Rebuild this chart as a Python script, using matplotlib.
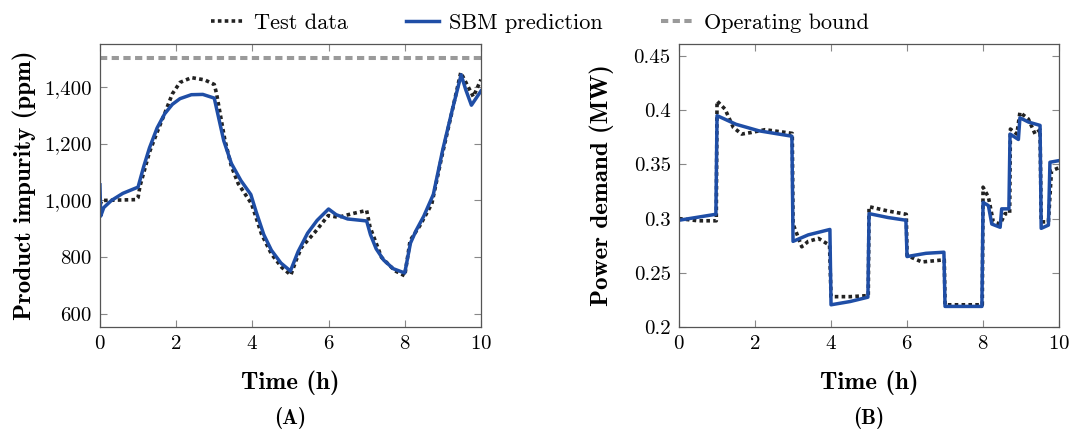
import numpy as np
import matplotlib
matplotlib.use('Agg')
import matplotlib.pyplot as plt
from matplotlib.ticker import FuncFormatter
from matplotlib.lines import Line2D

plt.rcParams['font.family'] = ['cmr10', 'DejaVu Serif']
plt.rcParams['mathtext.fontset'] = 'cm'
plt.rcParams['axes.formatter.use_mathtext'] = True

# (A) product impurity, ppm
t_sbm_a = [0, 0.02, 0.1, 0.3, 0.6, 1.0, 1.15, 1.3, 1.5, 1.7, 1.9, 2.1, 2.4, 2.7, 3.0,
           3.1, 3.25, 3.45, 3.7, 3.96, 4.1, 4.3, 4.5, 4.75, 5.0, 5.2, 5.45, 5.7, 6.0,
           6.2, 6.5, 7.0, 7.1, 7.25, 7.45, 7.7, 8.0, 8.15, 8.3, 8.5, 8.75, 9.0, 9.25,
           9.48, 9.6, 9.75, 10.0]
v_sbm_a = [1055, 945, 975, 1000, 1025, 1047, 1120, 1185, 1255, 1305, 1338, 1358, 1372, 1373, 1360,
           1300, 1210, 1130, 1070, 1021, 960, 880, 825, 780, 752, 820, 885, 930, 970,
           950, 935, 928, 880, 830, 790, 760, 745, 850, 895, 945, 1021, 1180, 1320,
           1442, 1390, 1335, 1385]
t_test_a = [0, 0.05, 0.95, 1.0, 1.05, 1.3, 1.5, 1.7, 1.9, 2.1, 2.4, 2.75, 3.0, 3.06,
            3.28, 3.45, 3.63, 3.98, 4.24, 4.5, 4.77, 5.01, 5.15, 5.29, 5.64, 5.99, 6.26,
            6.6, 7.0, 7.09, 7.25, 7.39, 7.74, 8.0, 8.14, 8.4, 8.71, 8.97, 9.23, 9.47,
            9.8, 10.0]
v_test_a = [985, 1000, 1003, 1010, 1050, 1170, 1240, 1306, 1375, 1415, 1432, 1424, 1408, 1376,
            1212, 1120, 1059, 988, 882, 812, 765, 738, 790, 835, 888, 947, 941,
            953, 965, 906, 850, 800, 753, 735, 859, 912, 988, 1153, 1306, 1450,
            1365, 1425]
bound_a = 1500

# (B) power demand, MW
t_sbm_b = [0, 0.97, 1.0, 1.5, 2.1, 2.97, 3.0, 3.4, 3.97, 4.0, 4.5, 4.97, 5.0, 5.5, 5.97,
           6.0, 6.5, 6.97, 7.0, 7.97, 8.0, 8.14, 8.23, 8.45, 8.49, 8.68, 8.71, 8.93, 8.97,
           9.2, 9.5, 9.53, 9.72, 9.76, 10.0]
v_sbm_b = [0.2985, 0.304, 0.395, 0.387, 0.381, 0.376, 0.279, 0.285, 0.290, 0.2205, 0.2235,
           0.2275, 0.3046, 0.301, 0.2985, 0.265, 0.268, 0.269, 0.219, 0.219, 0.315, 0.312,
           0.295, 0.292, 0.309, 0.309, 0.378, 0.373, 0.393, 0.389, 0.386, 0.291, 0.294,
           0.352, 0.3535]
t_test_b = [0, 0.5, 0.98, 1.0, 1.21, 1.43, 1.65, 1.91, 2.26, 2.7, 2.98, 3.0, 3.1, 3.23, 3.4,
            3.67, 3.96, 4.0, 4.5, 4.98, 5.0, 5.5, 5.98, 6.0, 6.39, 6.98, 7.0, 7.98, 8.0,
            8.14, 8.27, 8.45, 8.58, 8.7, 8.72, 8.89, 8.97, 9.19, 9.37, 9.5, 9.53, 9.72,
            9.8, 10.0]
v_test_b = [0.3, 0.298, 0.298, 0.4085, 0.401, 0.384, 0.378, 0.3795, 0.382, 0.380, 0.3786,
            0.295, 0.286, 0.274, 0.279, 0.2817, 0.2755, 0.228, 0.228, 0.229, 0.311, 0.307,
            0.304, 0.266, 0.260, 0.262, 0.2205, 0.2205, 0.329, 0.32, 0.297, 0.295, 0.3046,
            0.3046, 0.3826, 0.378, 0.398, 0.392, 0.378, 0.382, 0.297, 0.297, 0.344, 0.347]

blue = '#1f4ea6'
black = '#222222'
gray = '#9a9a9a'
test_style = dict(color=black, lw=2.6, linestyle=(0, (1, 0.9)))
sbm_style = dict(color=blue, lw=2.5)
bound_style = dict(color=gray, lw=2.9, linestyle=(0, (1.8, 1.1)))

fig = plt.figure(figsize=(10.69, 4.30), dpi=100)
axA = fig.add_axes([0.0935, 0.2395, 0.3564, 0.658])
axB = fig.add_axes([0.6352, 0.2395, 0.3555, 0.658])

axA.plot(t_test_a, v_test_a, **test_style)
axA.plot(t_sbm_a, v_sbm_a, **sbm_style)
axA.axhline(bound_a, **bound_style)
axA.set_ylim(555, 1550)
axA.set_yticks([600, 800, 1000, 1200, 1400])
axA.yaxis.set_major_formatter(FuncFormatter(lambda v, p: f'{int(v):,}'))
axA.set_ylabel('Product impurity (ppm)', fontfamily='cmb10', fontsize=18, labelpad=5)

axB.plot(t_test_b, v_test_b, **test_style)
axB.plot(t_sbm_b, v_sbm_b, **sbm_style)
axB.set_ylim(0.2, 0.461)
axB.set_yticks([0.2, 0.25, 0.3, 0.35, 0.4, 0.45])
axB.yaxis.set_major_formatter(FuncFormatter(lambda v, p: f'{v:g}'))
axB.set_ylabel('Power demand (MW)', fontfamily='cmb10', fontsize=18, labelpad=14)

for ax, tag in ((axA, '(A)'), (axB, '(B)')):
    ax.set_xlim(0, 10)
    ax.set_xticks([0, 2, 4, 6, 8, 10])
    ax.tick_params(direction='in', top=True, right=True, labelsize=15,
                   color='#888888', length=5, width=0.8, pad=6)
    for s in ax.spines.values():
        s.set_color('#555555')
        s.set_linewidth(0.9)
    ax.set_xlabel('Time (h)', fontfamily='cmb10', fontsize=18)
    ax.xaxis.set_label_coords(0.5, -0.155)
    ax.text(0.5, -0.322, tag, transform=ax.transAxes, ha='center', va='center',
            fontfamily='cmb10', fontsize=15)

handles = [Line2D([], [], **test_style), Line2D([], [], **sbm_style),
           Line2D([], [], **bound_style)]
fig.legend(handles, ['Test data', 'SBM prediction', 'Operating bound'],
           loc='upper center', bbox_to_anchor=(0.505, 1.015), ncol=3, frameon=False,
           fontsize=16, handlelength=1.5, handletextpad=0.45, columnspacing=2.6)

fig.savefig('out.png', dpi=100)
